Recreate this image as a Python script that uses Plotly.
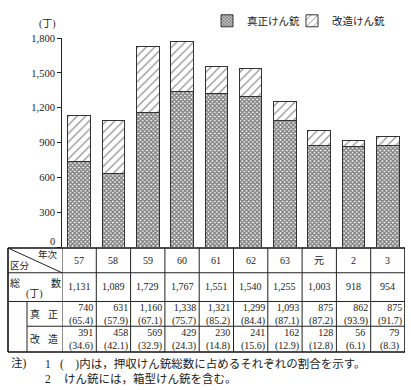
import plotly.graph_objects as go

years = ["57", "58", "59", "60", "61", "62", "63", "元", "2", "3"]
genuine = [740, 631, 1160, 1338, 1321, 1299, 1093, 875, 862, 875]
modified = [391, 458, 569, 429, 230, 241, 162, 128, 56, 79]
totals = [1131, 1089, 1729, 1767, 1551, 1540, 1255, 1003, 918, 954]
genuine_pct = [65.4, 57.9, 67.1, 75.7, 85.2, 84.4, 87.1, 87.2, 93.9, 91.7]
modified_pct = [34.6, 42.1, 32.9, 24.3, 14.8, 15.6, 12.9, 12.8, 6.1, 8.3]
y_ticks = [0, 300, 600, 900, 1200, 1500, 1800]

W, H = 411, 390
L, R, T, B = 62, 405, 36, 247  # plot area in pixels
FONT = "Liberation Serif, Noto Sans CJK JP, serif"


def px(xp):
    return (xp - L) / (R - L)


def py(yp):
    return (B - yp) / (B - T)


fig = go.Figure()
fig.add_bar(
    x=years, y=genuine, name="真正けん銃", width=0.66, legend="legend",
    marker=dict(color="white", line=dict(color="#333", width=1),
                pattern=dict(shape="x", size=3, solidity=0.7, fgcolor="#000", bgcolor="white")),
)
fig.add_bar(
    x=years, y=modified, name="改造けん銃", width=0.66, legend="legend2",
    marker=dict(color="white", line=dict(color="#333", width=1),
                pattern=dict(shape="/", size=6, solidity=0.2, fgcolor="#222", bgcolor="white")),
)

shapes = []
ann = []
line = dict(color="#222", width=1)
thick = dict(color="#111", width=1.6)
# table rows (pixel y)
y_top, y_h, y_r2, y_r3, y_bot = 248, 273, 302, 327, 353
x_left, x_inner = 8, 27
for yy, x0, st in [(y_top, x_left, thick), (y_h, x_left, line), (y_r2, x_left, line),
                   (y_r3, x_inner, line), (y_bot, x_left, thick)]:
    shapes.append(dict(type="line", xref="paper", yref="paper", x0=px(x0), x1=1.0,
                       y0=py(yy), y1=py(yy), line=st))
shapes.append(dict(type="line", xref="paper", yref="paper", x0=px(x_left), x1=px(x_left),
                   y0=py(y_top), y1=py(y_bot), line=thick))
shapes.append(dict(type="line", xref="paper", yref="paper", x0=px(x_inner), x1=px(x_inner),
                   y0=py(y_r2), y1=py(y_bot), line=line))
shapes.append(dict(type="line", xref="paper", yref="paper", x0=px(x_left), x1=0,
                   y0=py(y_top), y1=py(y_h), line=line))
for i in range(len(years) + 1):
    shapes.append(dict(type="line", xref="x", yref="paper", x0=i - 0.5, x1=i - 0.5,
                       y0=py(y_top), y1=py(y_bot), line=thick if i == len(years) else line))

f_num = dict(family=FONT, size=10, color="#222")
f_jp = dict(family=FONT, size=10, color="#222")


def a(x, y, text, font=f_jp, xref="paper", xanchor="center", align="center"):
    ann.append(dict(x=x, y=py(y), xref=xref, yref="paper", text=text, showarrow=False,
                    font=font, xanchor=xanchor, yanchor="middle", align=align))


for i, yr in enumerate(years):
    a(i, 261, yr, f_num, xref="x")
    a(i, 287, f"{totals[i]:,}", f_num, xref="x")
    a(i + 0.06, 315, f"{genuine[i]:,}<br>({genuine_pct[i]})", f_num, xref="x", align="right")
    a(i + 0.06, 340, f"{modified[i]:,}<br>({modified_pct[i]})", f_num, xref="x", align="right")

a(px(48), 255, "年次", dict(family=FONT, size=9.5, color="#222"))
a(px(20), 266, "区分", dict(family=FONT, size=9.5, color="#222"))
a(px(15), 283, "総")
a(px(56), 283, "数")
a(px(34), 294, "(丁)")
a(px(35), 315, "真")
a(px(53), 315, "正")
a(px(35), 340, "改")
a(px(53), 340, "造")

# y-axis unit and zero label (sits slightly above its tick in the reference)
a(px(47), 22, "(丁)", dict(family=FONT, size=10, color="#222"))
a(px(57), 241, "0", dict(family=FONT, size=10.5, color="#222"), xanchor="right")

# notes
f_note = dict(family=FONT, size=11.5, color="#222")
a(px(9), 365, "注)", f_note, xanchor="left")
a(px(43), 365, "1", f_note, xanchor="left")
a(px(58), 365, "(　)内は，押収けん銃総数に占めるそれぞれの割合を示す。", f_note, xanchor="left")
a(px(43), 380, "2", f_note, xanchor="left")
a(px(62), 380, "けん銃には，箱型けん銃を含む。", f_note, xanchor="left")

leg_common = dict(orientation="h", xanchor="left", yanchor="top",
                  font=dict(family=FONT, size=10.5, color="#222"),
                  bgcolor="rgba(0,0,0,0)")

fig.update_layout(
    width=W, height=H, barmode="stack", bargap=0.34,
    margin=dict(l=L, r=W - R, t=T, b=H - B, pad=0),
    paper_bgcolor="white", plot_bgcolor="white",
    font=dict(family=FONT, size=10, color="#222"),
    showlegend=True,
    legend=dict(x=px(207), y=py(4), **leg_common),
    legend2=dict(x=px(292), y=py(4), **leg_common),
    xaxis=dict(type="category", range=[-0.5, len(years) - 0.5], showticklabels=False,
               showline=False, ticks="", showgrid=False, zeroline=False),
    yaxis=dict(range=[0, 1800], tickvals=y_ticks,
               ticktext=[""] + [f"{v:,}" for v in y_ticks[1:]], showgrid=False,
               zeroline=False, showline=True, linecolor="#222", linewidth=1,
               ticks="outside", ticklen=4, tickcolor="#222",
               tickfont=dict(family=FONT, size=10.5, color="#222")),
    shapes=shapes, annotations=ann,
)

fig.write_html("out.html", config={"displayModeBar": False},
               post_script="document.body.style.margin='0';document.body.style.overflow='hidden';")
